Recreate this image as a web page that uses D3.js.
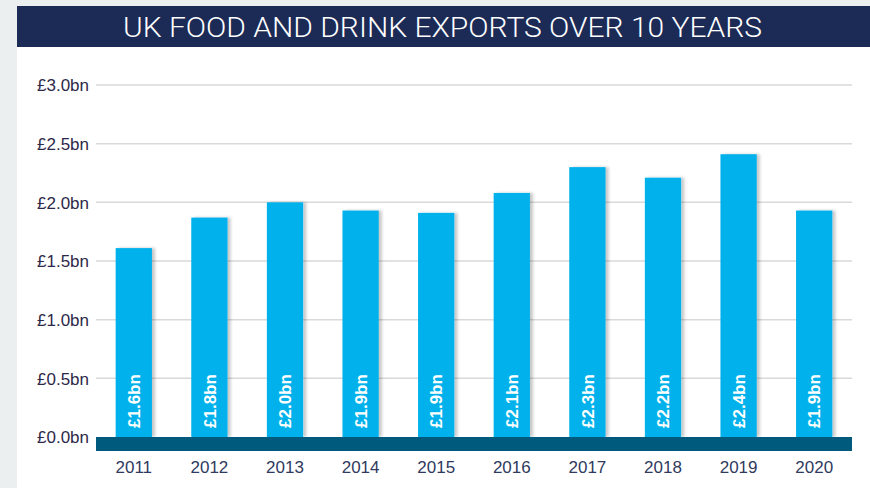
<!DOCTYPE html>
<html>
<head>
<meta charset="utf-8">
<script src="https://cdn.jsdelivr.net/npm/d3@7"></script>
<style>
   html, body { margin: 0; padding: 0; background: #ebeff0; }
   svg { display: block; }
</style>
</head>
<body>
<div id="chart"></div>
<script>
// Data
const years = ["2011", "2012", "2013", "2014", "2015", "2016", "2017", "2018", "2019", "2020"]
const exports = [1.61, 1.87, 2.0, 1.93, 1.91, 2.08, 2.30, 2.21, 2.41, 1.93]
const barLabels = ["£1.6bn", "£1.8bn", "£2.0bn", "£1.9bn", "£1.9bn", "£2.1bn", "£2.3bn", "£2.2bn", "£2.4bn", "£1.9bn"]
const yTicks = [0, 0.5, 1.0, 1.5, 2.0, 2.5, 3.0]
const title = "UK FOOD AND DRINK EXPORTS OVER 10 YEARS"

const width = 870, height = 488
const margin = {left: 96, right: 18, top: 85, bottom: 51}

let svg = d3.select("#chart").append("svg")
   .attr("width", width)
   .attr("height", height)

// soft shadow to the right of each bar
let filter = svg.append("defs").append("filter")
   .attr("id", "shadow")
   .attr("x", "-20%").attr("y", "-5%")
   .attr("width", "150%").attr("height", "110%")
filter.append("feDropShadow")
   .attr("dx", 3).attr("dy", 0)
   .attr("stdDeviation", 1.5)
   .attr("flood-color", "#000")
   .attr("flood-opacity", 0.22)

// panels
svg.append("rect")
   .attr("x", 0).attr("y", 0)
   .attr("width", width).attr("height", height)
   .attr("fill", "#ebeff0")
svg.append("rect")
   .attr("x", 17).attr("y", 47)
   .attr("width", width - 17).attr("height", height - 47)
   .attr("fill", "#ffffff")
svg.append("rect")
   .attr("x", 17).attr("y", 6)
   .attr("width", width - 17).attr("height", 41)
   .attr("fill", "#1c2a56")

svg.append("text")
   .attr("x", 123).attr("y", 37)
   .attr("textLength", 639)
   .attr("lengthAdjust", "spacingAndGlyphs")
   .attr("fill", "#ffffff")
   .style("font-family", "Roboto, 'Liberation Sans', sans-serif")
   .style("font-weight", 300)
   .style("font-size", "28px")
   .text(title)

// scales
let x = d3.scaleBand()
   .domain(years)
   .range([margin.left, width - margin.right])
   .paddingInner(0.52)
   .paddingOuter(0.26)

let y = d3.scaleLinear()
   .domain([0, 3])
   .range([height - margin.bottom, margin.top])

// gridlines
svg.append("g")
   .selectAll("line")
   .data(yTicks.filter(d => d > 0))
   .join("line")
      .attr("x1", margin.left)
      .attr("x2", width - margin.right)
      .attr("y1", d => y(d))
      .attr("y2", d => y(d))
      .attr("stroke", "#d9d9d9")
      .attr("stroke-width", 1.5)

// y axis labels
let yAxis = svg.append("g")
   .attr("transform", `translate(${margin.left - 7},0)`)
   .call(d3.axisLeft(y).tickValues(yTicks).tickSize(0).tickFormat(d => "£" + d3.format(".1f")(d) + "bn"))
yAxis.select(".domain").remove()
yAxis.selectAll("text")
   .attr("x", 0)
   .attr("dy", "0.35em")
   .attr("fill", "#2d2849")
   .style("font-family", "'Liberation Sans', Arial, sans-serif")
   .style("font-size", "17px")

// bars
svg.append("g")
   .selectAll("rect")
   .data(exports)
   .join("rect")
      .attr("x", (d, i) => x(years[i]))
      .attr("y", d => y(d))
      .attr("width", x.bandwidth())
      .attr("height", d => y(0) - y(d))
      .attr("fill", "#00b1ec")
      .attr("filter", "url(#shadow)")

// value labels inside bars
svg.append("g")
   .selectAll("text")
   .data(barLabels)
   .join("text")
      .attr("transform", (d, i) => `translate(${x(years[i]) + x.bandwidth() / 2},${y(0) - 9}) rotate(-90)`)
      .attr("dy", "0.36em")
      .attr("fill", "#ffffff")
      .style("font-family", "'Liberation Sans', Arial, sans-serif")
      .style("font-weight", "bold")
      .style("font-size", "17px")
      .text(d => d)

// baseline band
svg.append("rect")
   .attr("x", margin.left)
   .attr("y", y(0))
   .attr("width", width - margin.right - margin.left)
   .attr("height", 14)
   .attr("fill", "#005a7e")

// x axis labels
let xAxis = svg.append("g")
   .attr("transform", `translate(0,${y(0) + 14})`)
   .call(d3.axisBottom(x).tickSize(0))
xAxis.select(".domain").remove()
xAxis.selectAll("text")
   .attr("y", 10)
   .attr("dy", "0.71em")
   .attr("fill", "#2f3a5e")
   .style("font-family", "'Liberation Sans', Arial, sans-serif")
   .style("font-size", "17px")
</script>
</body>
</html>
